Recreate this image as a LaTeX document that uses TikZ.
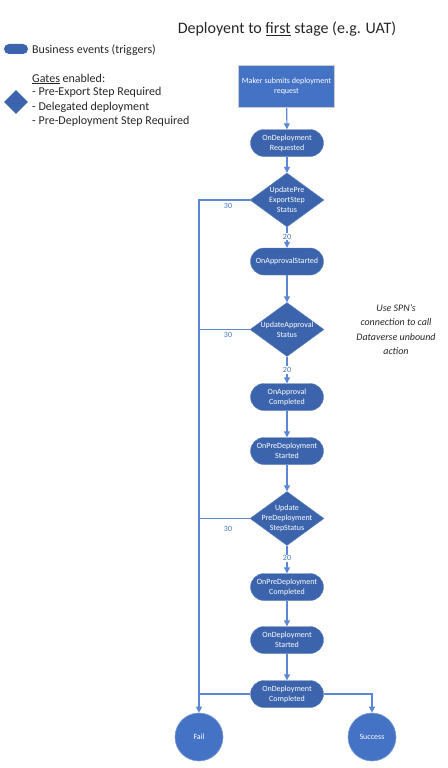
\documentclass[tikz,border=0pt]{standalone}
\usepackage{fontspec}
\setmainfont{Carlito}
\usetikzlibrary{shapes.geometric,arrows.meta}
\definecolor{pillblue}{HTML}{3B64AD}
\definecolor{boxblue}{HTML}{4472C4}
\definecolor{lineblue}{HTML}{5B87D6}
\definecolor{lblblue}{HTML}{4472C4}
\tikzset{
  pill/.style={rectangle, rounded corners=13.5pt, fill=pillblue, draw=pillblue!80!white, line width=0.4pt,
    minimum width=73pt, minimum height=27pt, inner sep=1pt, text=white, align=center,
    font=\fontsize{8}{10}\selectfont},
  gate/.style={diamond, fill=pillblue, draw=pillblue!80!white, line width=0.4pt, inner sep=0pt,
    minimum width=74pt, minimum height=54pt},
  gatetext/.style={text=white, align=center, font=\fontsize{8}{10}\selectfont},
  endpt/.style={circle, fill=boxblue, draw=boxblue!70!white, line width=0.6pt, minimum size=48pt,
    inner sep=0pt, text=white, font=\fontsize{8}{9}\selectfont},
  conn/.style={draw=lineblue, line width=1.1pt, -{Triangle[length=6pt,width=6pt]}},
  plainconn/.style={draw=lineblue, line width=1.1pt},
  numlbl/.style={text=lblblue, font=\fontsize{8}{9}\selectfont, inner sep=1pt},
  legendtext/.style={anchor=base west, font=\fontsize{12}{14}\selectfont, inner sep=0pt, text=black!85},
}
\begin{document}
\begin{tikzpicture}[x=1pt,y=-1pt]
\useasboundingbox (0,0) rectangle (447,768);

% title
\node[font=\fontsize{16}{18}\selectfont, text=black!85] (title) at (287,29) {Deployent to \underline{first} stage (e.g. UAT)};

% legend
\node[rectangle, rounded corners=5pt, fill=pillblue, minimum width=24pt, minimum height=10pt, inner sep=0pt] (legpill) at (16,49) {};
\node[legendtext] (legpilltxt) at (32,53) {Business events (triggers)};
\node[diamond, fill=pillblue, minimum width=24pt, minimum height=24pt, inner sep=0pt] (legdia) at (16,102) {};
\node[legendtext] (leggates) at (32,82) {\underline{Gates} enabled:};
\node[legendtext] (leggate1) at (32,95.5) {- Pre-Export Step Required};
\node[legendtext] (leggate2) at (32,110) {- Delegated deployment};
\node[legendtext] (leggate3) at (32,124) {- Pre-Deployment Step Required};

% note
\node[align=center, font=\itshape\fontsize{10}{14.5}\selectfont, text=black!85] (note) at (396,329.5) {Use SPN's\\connection to call\\Dataverse unbound\\action};

% main flow
\node[rectangle, fill=boxblue, draw=black!20, line width=0.8pt, minimum width=93pt, minimum height=42pt,
  text=white, align=center, font=\fontsize{8}{10}\selectfont] (maker) at (286.5,86.5) {Maker submits deployment\\request};
\node[pill] (req) at (287,143) {OnDeployment\\Requested};
\node[gate, label={[gatetext]center:UpdatePre\\ExportStep\\Status}] (g1) at (287,200) {};
\node[pill] (apps) at (287,261.5) {OnApprovalStarted};
\node[gate, label={[gatetext]center:UpdateApproval\\Status}] (g2) at (287,329.5) {};
\node[pill] (appc) at (287,397) {OnApproval\\Completed};
\node[pill] (pres) at (287,451) {OnPreDeployment\\Started};
\node[gate, label={[gatetext]center:Update\\PreDeployment\\StepStatus}] (g3) at (287,518.5) {};
\node[pill] (prec) at (287,587) {OnPreDeployment\\Completed};
\node[pill] (deps) at (287,640) {OnDeployment\\Started};
\node[pill] (depc) at (287,694) {OnDeployment\\Completed};
\node[endpt] (fail) at (199,737) {Fail};
\node[endpt] (succ) at (372,737) {Success};

% connectors
\draw[conn] (maker) -- (req);
\draw[conn] (req) -- (g1);
\draw[conn] (g1) -- node[numlbl, fill=white, pos=0.45] {20} (apps);
\draw[conn] (apps) -- (g2);
\draw[conn] (g2) -- node[numlbl, fill=white, pos=0.5] {20} (appc);
\draw[conn] (appc) -- (pres);
\draw[conn] (pres) -- (g3);
\draw[conn] (g3) -- node[numlbl, fill=white, pos=0.45] {20} (prec);
\draw[conn] (prec) -- (deps);
\draw[conn] (deps) -- (depc);

\draw[conn] (g1.west) -| (fail.north);
\draw[plainconn] (g2.west) -- (g2.west -| fail.north);
\draw[plainconn] (g3.west) -- (g3.west -| fail.north);
\draw[plainconn] (depc.west) -- (depc.west -| fail.north);
\draw[conn] (depc.east) -| (succ.north);

\node[numlbl] (l30a) at (228,206) {30};
\node[numlbl] (l30b) at (228,335) {30};
\node[numlbl] (l30c) at (228,529) {30};
\end{tikzpicture}
\end{document}
